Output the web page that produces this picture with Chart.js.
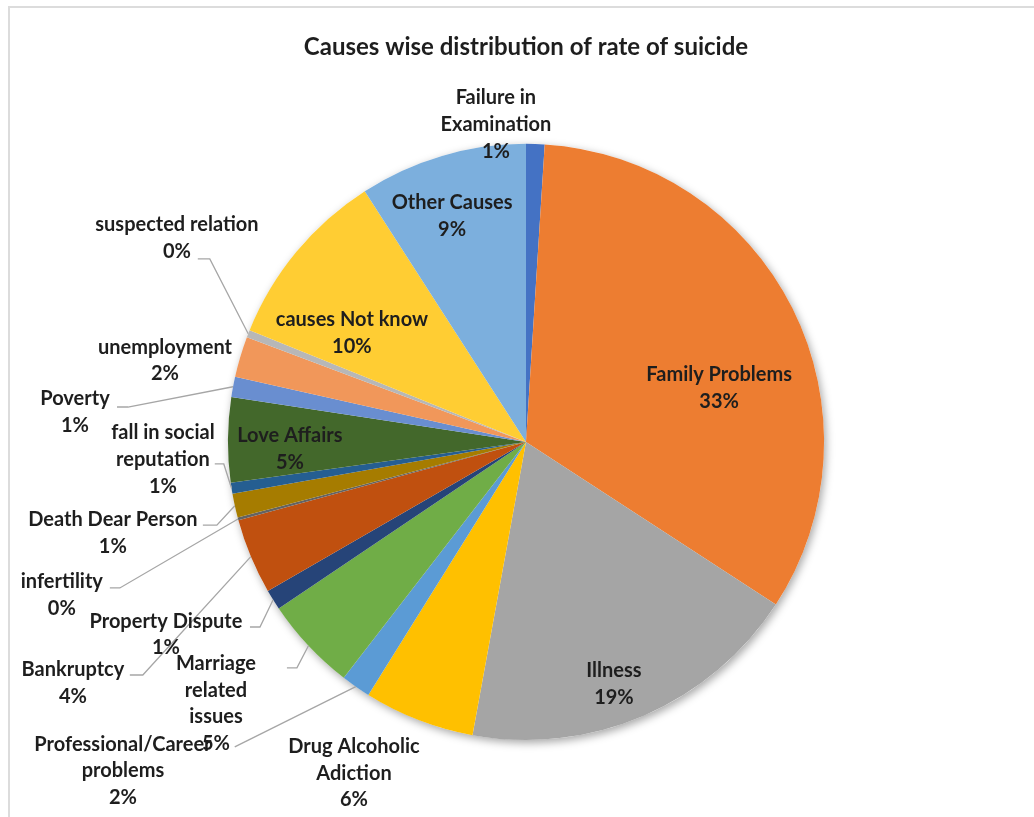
<!DOCTYPE html>
<html>
<head>
<meta charset="utf-8">
<script src="https://cdn.jsdelivr.net/npm/chart.js@4.4.1/dist/chart.umd.min.js"></script>
<style>
  html, body { margin: 0; padding: 0; background: #fff; overflow: hidden; }
  #wrap { position: absolute; left: 0; top: 0; width: 1034px; height: 817px; }
  #frame { position: absolute; left: 8px; top: 6px; width: 1200px; height: 1000px; border: 2px solid #dcdcdc; box-sizing: border-box; }
  canvas { position: absolute; left: 0; top: 0; }
</style>
</head>
<body>
<div id="wrap">
  <div id="frame"></div>
  <canvas id="c" width="1034" height="817"></canvas>
</div>
<script>
// ---- data (percent of total) ----
const categories = [
  "Failure in Examination", "Family Problems", "Illness", "Drug Alcoholic Adiction",
  "Professional/Career problems", "Marriage related issues", "Property Dispute", "Bankruptcy",
  "infertility", "Death Dear Person", "fall in social reputation", "Love Affairs",
  "Poverty", "unemployment", "suspected relation", "causes Not know", "Other Causes"
];
const values = [1.0, 33.2, 18.7, 6.0, 1.6, 5.1, 1.1, 4.1, 0.15, 1.3, 0.6, 4.6, 1.1, 2.2, 0.4, 9.8, 9.1];
const titleText = "Causes wise distribution of rate of suicide";
// label text as wrapped in the chart
const labelLines = [
  ["Failure in", "Examination"], ["Family Problems"], ["Illness"], ["Drug Alcoholic", "Adiction"],
  ["Professional/Career", "problems"], ["Marriage", "related", "issues"], ["Property Dispute"], ["Bankruptcy"],
  ["infertility"], ["Death Dear Person"], ["fall in social", "reputation"], ["Love Affairs"],
  ["Poverty"], ["unemployment"], ["suspected relation"], ["causes Not know"], ["Other Causes"]
];

// ---- styles ----
const colors = [
  "#4472C4", "#ED7D31", "#A5A5A5", "#FFC000", "#5B9BD5", "#70AD47", "#264478", "#C0500F",
  "#636363", "#A67C00", "#255E91", "#43682B", "#698ED0", "#F1975A", "#B7B7B7", "#FFCD33", "#7CAFDD"
];
// label block centre (x, y) in units of pie radius from pie centre; leader = [sx, sy, elbowPx]
const labelLayout = [
  { x: -0.101, y: -1.064 },
  { x: 0.648, y: -0.180 },
  { x: 0.295, y: 0.812 },
  { x: -0.577, y: 1.111 },
  { x: -1.352, y: 1.104, leader: [-0.977, 1.023, 0] },
  { x: -1.040, y: 0.878, leader: [-0.802, 0.758, 10] },
  { x: -1.208, y: 0.646, leader: [-0.926, 0.621, 10] },
  { x: -1.520, y: 0.810, leader: [-1.329, 0.782, 13] },
  { x: -1.557, y: 0.515, leader: [-1.396, 0.490, 10] },
  { x: -1.386, y: 0.307, leader: [-1.084, 0.279, 14] },
  { x: -1.218, y: 0.059, leader: [-1.044, 0.074, 9] },
  { x: -0.792, y: 0.023 },
  { x: -1.513, y: -0.101, leader: [-1.372, -0.117, 11] },
  { x: -1.211, y: -0.273 },
  { x: -1.171, y: -0.683, leader: [-1.101, -0.614, 12] },
  { x: -0.584, y: -0.364 },
  { x: -0.248, y: -0.758 }
];
const FONT_FAMILY = "Lato, 'Open Sans', sans-serif";
const LABEL_FONT = "bold 20px " + FONT_FAMILY;
const LINE_H = 26.8;
const TEXT_COLOR = "#1e1e1e";

const shadowPlugin = {
  id: 'pieShadow',
  beforeDatasetsDraw(chart) {
    const arc = chart.getDatasetMeta(0).data[0];
    if (!arc) return;
    const ctx = chart.ctx;
    ctx.save();
    ctx.shadowColor = 'rgba(0,0,0,0.35)';
    ctx.shadowBlur = 9;
    ctx.shadowOffsetX = 2;
    ctx.shadowOffsetY = 3;
    ctx.fillStyle = '#ffffff';
    ctx.beginPath();
    ctx.arc(arc.x, arc.y, arc.outerRadius, 0, Math.PI * 2);
    ctx.fill();
    ctx.restore();
  }
};

const labelPlugin = {
  id: 'sliceLabels',
  afterDatasetsDraw(chart) {
    const meta = chart.getDatasetMeta(0);
    const ctx = chart.ctx;
    const total = values.reduce((a, b) => a + b, 0);
    const a0 = meta.data[0];
    const cx = a0.x, cy = a0.y, r = a0.outerRadius;
    ctx.save();
    // leaders first
    ctx.strokeStyle = '#A6A6A6';
    ctx.lineWidth = 1.3;
    meta.data.forEach((arc, i) => {
      const L = labelLayout[i];
      if (!L.leader) return;
      const sx = cx + L.leader[0] * r, sy = cy + L.leader[1] * r;
      const mid = (arc.startAngle + arc.endAngle) / 2;
      const ex = cx + Math.cos(mid) * r, ey = cy + Math.sin(mid) * r;
      ctx.beginPath();
      ctx.moveTo(sx, sy);
      ctx.lineTo(sx + L.leader[2], sy);
      ctx.lineTo(ex, ey);
      ctx.stroke();
    });
    ctx.font = LABEL_FONT;
    ctx.fillStyle = TEXT_COLOR;
    ctx.textAlign = 'center';
    ctx.textBaseline = 'middle';
    meta.data.forEach((arc, i) => {
      const L = labelLayout[i];
      const pct = Math.round(values[i] / total * 100) + '%';
      const lines = labelLines[i].concat([pct]);
      const x = cx + L.x * r, y = cy + L.y * r;
      const top = y - (lines.length - 1) * LINE_H / 2;
      lines.forEach((t, k) => ctx.fillText(t, x, top + k * LINE_H));
    });
    ctx.restore();
  }
};

new Chart(document.getElementById('c'), {
  type: 'pie',
  data: {
    labels: categories,
    datasets: [{
      data: values,
      backgroundColor: colors,
      borderWidth: 0,
      hoverOffset: 0
    }]
  },
  options: {
    responsive: false,
    animation: false,
    layout: { padding: { left: 200, right: 182, top: 0, bottom: 77 } },
    plugins: {
      legend: { display: false },
      tooltip: { enabled: false },
      title: {
        display: true,
        text: titleText,
        color: TEXT_COLOR,
        font: { family: FONT_FAMILY, size: 24, weight: 'bold', lineHeight: 1.2 },
        padding: { top: 33, bottom: 82 }
      }
    }
  },
  plugins: [shadowPlugin, labelPlugin]
});
</script>
</body>
</html>
